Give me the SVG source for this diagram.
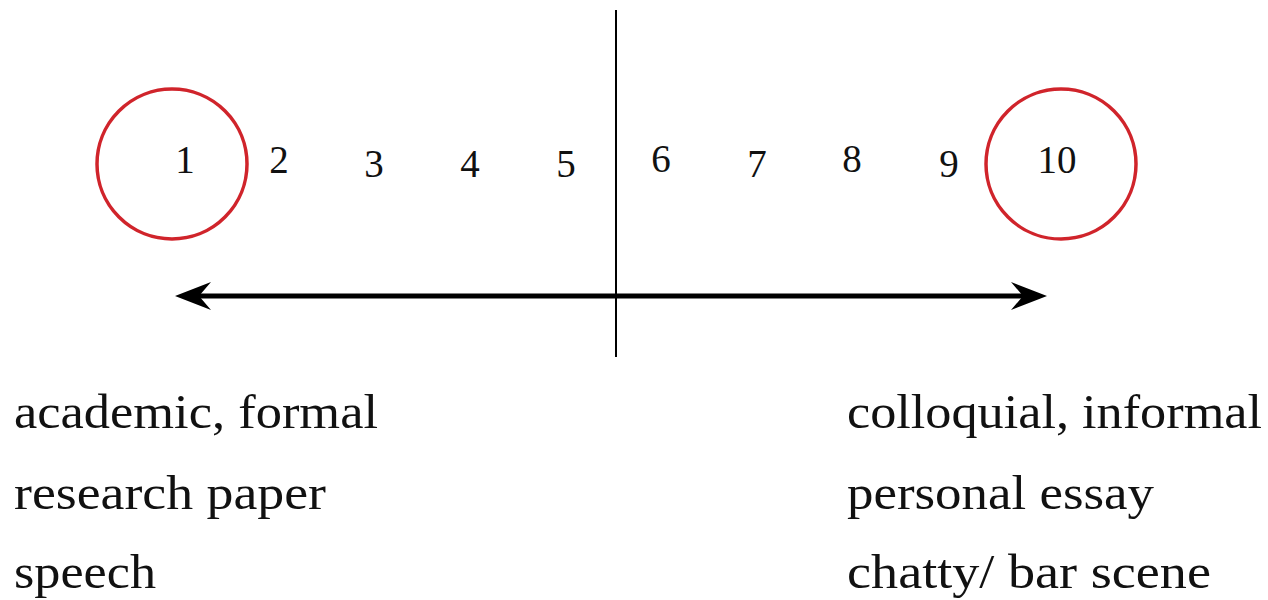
<svg xmlns="http://www.w3.org/2000/svg" width="1268" height="600" viewBox="0 0 1268 600">
<defs>
<style>
.num{font-family:"Liberation Serif","DejaVu Serif",serif;font-size:39px;fill:#111;text-anchor:middle}
.lbl{font-family:"Liberation Serif","DejaVu Serif",serif;font-size:49px;fill:#111}
.ring{fill:none;stroke:#d0242b;stroke-width:3.5}
</style>
</defs>
<rect width="1268" height="600" fill="#fff"/>
<g id="connectors">
<line x1="616" y1="10" x2="616" y2="357" stroke="#000" stroke-width="2"/>
<line x1="195" y1="296" x2="1028" y2="296" stroke="#000" stroke-width="5"/>
<path d="M175,296 L211,282 L199,296 L211,310 Z" fill="#000"/>
<path d="M1047,296 L1011,282 L1023,296 L1011,310 Z" fill="#000"/>
</g>
<g id="n1"><circle class="ring" cx="172" cy="164" r="75"/><text class="num" x="185" y="173">1</text></g>
<g id="n2"><text class="num" x="279" y="173">2</text></g>
<g id="n3"><text class="num" x="374" y="177">3</text></g>
<g id="n4"><text class="num" x="470" y="177">4</text></g>
<g id="n5"><text class="num" x="566" y="177">5</text></g>
<g id="n6"><text class="num" x="661" y="172">6</text></g>
<g id="n7"><text class="num" x="757" y="177">7</text></g>
<g id="n8"><text class="num" x="852" y="172">8</text></g>
<g id="n9"><text class="num" x="949" y="177">9</text></g>
<g id="n10"><circle class="ring" cx="1061" cy="164" r="75"/><text class="num" x="1057" y="173">10</text></g>
<g id="left-labels">
<text class="lbl" x="14" y="428" textLength="364" lengthAdjust="spacingAndGlyphs">academic, formal</text>
<text class="lbl" x="14" y="509" textLength="312" lengthAdjust="spacingAndGlyphs">research paper</text>
<text class="lbl" x="14" y="588" textLength="142" lengthAdjust="spacingAndGlyphs">speech</text>
</g>
<g id="right-labels">
<text class="lbl" x="847" y="428" textLength="415" lengthAdjust="spacingAndGlyphs">colloquial, informal</text>
<text class="lbl" x="847" y="509" textLength="307" lengthAdjust="spacingAndGlyphs">personal essay</text>
<text class="lbl" x="847" y="588" textLength="364" lengthAdjust="spacingAndGlyphs">chatty/ bar scene</text>
</g>
</svg>
